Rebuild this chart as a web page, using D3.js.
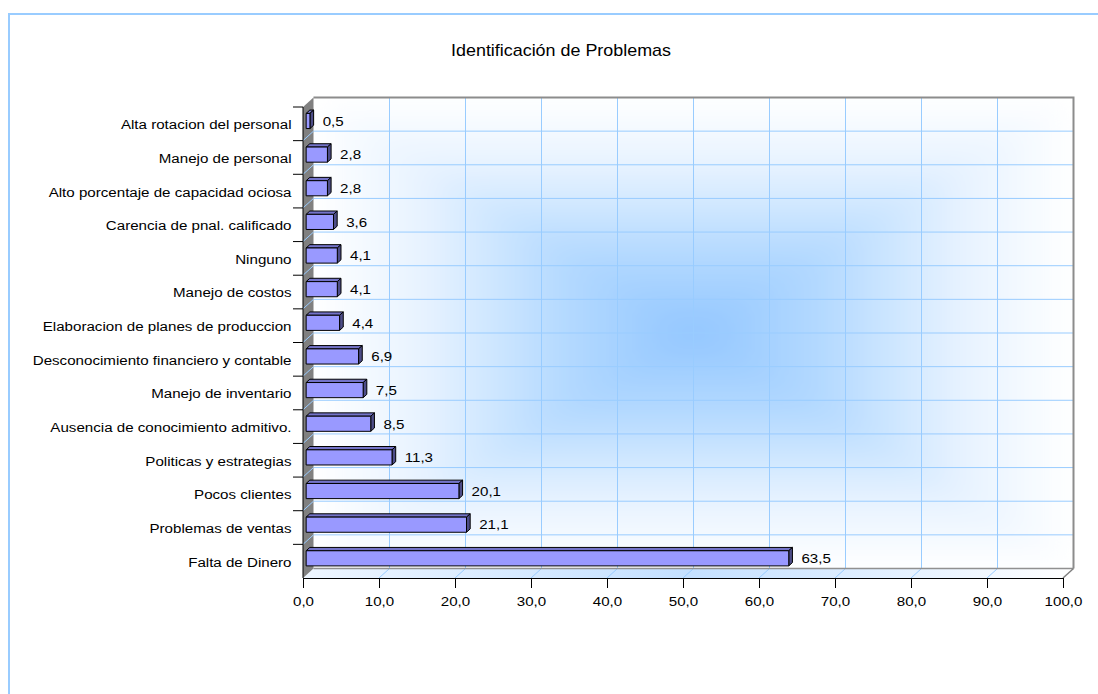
<!DOCTYPE html>
<html>
<head>
<meta charset="utf-8">
<script src="https://cdn.jsdelivr.net/npm/d3@7"></script>
<style>
  html, body { margin: 0; padding: 0; background: #ffffff; }
  svg { display: block; }
  text { font-family: "Liberation Sans", Arial, sans-serif; fill: #000; }
</style>
</head>
<body>
<svg id="chart" width="1098" height="694"></svg>
<script>
// ---- data ----
const title = "Identificación de Problemas";
const categories = [
  "Alta rotacion del personal",
  "Manejo de personal",
  "Alto porcentaje de capacidad ociosa",
  "Carencia de pnal. calificado",
  "Ninguno",
  "Manejo de costos",
  "Elaboracion de planes de produccion",
  "Desconocimiento financiero y contable",
  "Manejo de inventario",
  "Ausencia de conocimiento admitivo.",
  "Politicas y estrategias",
  "Pocos clientes",
  "Problemas de ventas",
  "Falta de Dinero"
];
const values = [0.5, 2.8, 2.8, 3.6, 4.1, 4.1, 4.4, 6.9, 7.5, 8.5, 11.3, 20.1, 21.1, 63.5];
const xTicks = [0, 10, 20, 30, 40, 50, 60, 70, 80, 90, 100];

// ---- layout ----
const svg = d3.select("#chart");
const X0 = 303, X1 = 1063;         // front plane x range
const Y0 = 107, Y1 = 578;          // front plane y range
const DX = 10.5, DY = -9.5;        // depth vector
const T0 = 0.3, T1 = 0.65;         // bar depth range
const SX = 1.12;                   // horizontal text stretch
const FS = 13.5;                   // label font size

const loc = d3.formatLocale({decimal: ",", thousands: ".", grouping: [3], currency: ["", ""]});
const fmt = loc.format(".1f");

const x = d3.scaleLinear().domain([0, 100]).range([X0, X1]);
const yCat = d3.scaleBand().domain(categories).range([Y0, Y1]);
const yBar = d3.scaleBand().domain(categories).range([Y0, Y1]).paddingInner(0.55).paddingOuter(0.275);

const defs = svg.append("defs");

// frame
svg.append("rect").attr("x", 9).attr("y", 14).attr("width", 1200).attr("height", 800)
  .attr("fill", "none").attr("stroke", "#99ccff").attr("stroke-width", 2);

// title
svg.append("text")
  .attr("transform", `translate(561,56) scale(${SX},1)`)
  .attr("text-anchor", "middle").attr("font-size", 16).text(title);

// ---- back wall ----
const wx0 = X0 + DX, wx1 = X1 + DX, wy0 = Y0 + DY, wy1 = Y1 + DY;
const cx = (wx0 + wx1) / 2, cy = (wy0 + wy1) / 2;
defs.append("clipPath").attr("id", "wallClip").append("rect")
  .attr("x", wx0).attr("y", wy0).attr("width", wx1 - wx0).attr("height", wy1 - wy0);
defs.append("filter").attr("id", "soft").attr("x", "-10%").attr("y", "-10%").attr("width", "120%").attr("height", "120%")
  .append("feGaussianBlur").attr("stdDeviation", 14);

const stops = [[0, "#92c6ff"], [0.35, "#b5daff"], [0.7, "#e6f2ff"], [1, "#ffffff"]];
const sides = [
  {id: "gT", ex: cx, ey: wy0, pts: [[wx0, wy0], [wx1, wy0]]},
  {id: "gB", ex: cx, ey: wy1, pts: [[wx1, wy1], [wx0, wy1]]},
  {id: "gL", ex: wx0, ey: cy, pts: [[wx0, wy1], [wx0, wy0]]},
  {id: "gR", ex: wx1, ey: cy, pts: [[wx1, wy0], [wx1, wy1]]}
];
sides.forEach(s => {
  const g = defs.append("linearGradient").attr("id", s.id).attr("gradientUnits", "userSpaceOnUse")
    .attr("x1", cx).attr("y1", cy).attr("x2", s.ex).attr("y2", s.ey);
  stops.forEach(st => g.append("stop").attr("offset", st[0]).attr("stop-color", st[1]));
});
svg.append("rect").attr("x", wx0).attr("y", wy0).attr("width", wx1 - wx0).attr("height", wy1 - wy0).attr("fill", "#ffffff");
const bg = svg.append("g").attr("clip-path", "url(#wallClip)").append("g").attr("filter", "url(#soft)");
sides.forEach(s => {
  bg.append("polygon")
    .attr("points", [[cx, cy], s.pts[0], s.pts[1]].map(p => p.join(",")).join(" "))
    .attr("fill", `url(#${s.id})`).attr("stroke", `url(#${s.id})`).attr("stroke-width", 1);
});

// wall gridlines
const grid = svg.append("g").attr("stroke", "#99ccff").attr("stroke-width", 1);
xTicks.slice(1, -1).forEach(t => {
  grid.append("line").attr("x1", x(t) + DX).attr("x2", x(t) + DX).attr("y1", wy0).attr("y2", wy1);
});
categories.slice(1).forEach(c => {
  const yy = yCat(c) + DY;
  grid.append("line").attr("x1", wx0).attr("x2", wx1).attr("y1", yy).attr("y2", yy);
});

// ---- floor ----
const fg = defs.append("linearGradient").attr("id", "floorG").attr("x1", 0).attr("x2", 1).attr("y1", 0).attr("y2", 0);
[[0, "#eef6ff"], [0.5, "#c4e0ff"], [1, "#ffffff"]].forEach(st => fg.append("stop").attr("offset", st[0]).attr("stop-color", st[1]));
svg.append("polygon")
  .attr("points", [[X0, Y1], [X1, Y1], [wx1, wy1], [wx0, wy1]].map(p => p.join(",")).join(" "))
  .attr("fill", "url(#floorG)");
xTicks.slice(1, -1).forEach(t => {
  svg.append("line").attr("x1", x(t)).attr("y1", Y1).attr("x2", x(t) + DX).attr("y2", wy1)
    .attr("stroke", "#99ccff").attr("stroke-width", 1);
});
svg.append("line").attr("x1", wx0).attr("x2", wx1).attr("y1", wy1).attr("y2", wy1).attr("stroke", "#909090").attr("stroke-width", 1.5);
svg.append("line").attr("x1", X1).attr("y1", Y1).attr("x2", wx1).attr("y2", wy1).attr("stroke", "#808080").attr("stroke-width", 1.5);

// wall border top & right
svg.append("polyline").attr("points", `${wx0},${wy0} ${wx1},${wy0} ${wx1},${wy1}`)
  .attr("fill", "none").attr("stroke", "#8c8c8c").attr("stroke-width", 2);

// ---- left wall ----
svg.append("polygon")
  .attr("points", [[X0, Y0], [wx0, wy0], [wx0, wy1], [X0, Y1]].map(p => p.join(",")).join(" "))
  .attr("fill", "#808080");
categories.slice(1).forEach(c => {
  svg.append("line").attr("x1", X0).attr("y1", yCat(c)).attr("x2", wx0).attr("y2", yCat(c) + DY)
    .attr("stroke", "#99ccff").attr("stroke-width", 1);
});

// ---- bars ----
const bars = svg.append("g");
const bw = yBar.bandwidth();
const ddx = DX * (T1 - T0), ddy = DY * (T1 - T0);
categories.forEach((c, i) => {
  const v = values[i];
  const xa = x(0) + DX * T0, xb = x(v) + DX * T0;
  const yt = yBar(c) + DY * T0;
  const g = bars.append("g").attr("stroke", "#000").attr("stroke-width", 1).attr("stroke-linejoin", "round");
  // top face
  g.append("polygon").attr("points", [[xa, yt], [xb, yt], [xb + ddx, yt + ddy], [xa + ddx, yt + ddy]].map(p => p.join(",")).join(" "))
    .attr("fill", "#7373c8");
  // side face
  g.append("polygon").attr("points", [[xb, yt], [xb + ddx, yt + ddy], [xb + ddx, yt + bw + ddy], [xb, yt + bw]].map(p => p.join(",")).join(" "))
    .attr("fill", "#4d4d88");
  // front face
  g.append("rect").attr("x", xa).attr("y", yt).attr("width", Math.max(0.5, xb - xa)).attr("height", bw)
    .attr("fill", "#9999ff");
  // label
  svg.append("text")
    .attr("transform", `translate(${xb + ddx + 9},${yt + bw / 2 + 4.8}) scale(${SX},1)`)
    .attr("font-size", FS).text(fmt(v));
});

// ---- axes ----
// left axis: labels
const yAxis = svg.append("g").attr("transform", `translate(${X0},0)`)
  .call(d3.axisLeft(yCat).tickSize(0).tickPadding(12));
yAxis.select(".domain").remove();
yAxis.selectAll("text")
  .attr("font-size", FS).attr("font-family", "Liberation Sans, Arial, sans-serif")
  .attr("dy", "0.4em")
  .attr("transform", `scale(${SX},1)`)
  .attr("x", -11.5 / SX);
// left axis line & boundary ticks
svg.append("line").attr("x1", X0).attr("x2", X0).attr("y1", Y0).attr("y2", Y1).attr("stroke", "#000");
categories.forEach(c => {
  svg.append("line").attr("x1", X0 - 10).attr("x2", X0).attr("y1", yCat(c)).attr("y2", yCat(c)).attr("stroke", "#000");
});

// bottom axis
const xAxis = svg.append("g").attr("transform", `translate(0,${Y1})`)
  .call(d3.axisBottom(x).tickValues(xTicks).tickFormat(fmt).tickSize(10).tickSizeOuter(0).tickPadding(8));
xAxis.select(".domain").attr("stroke", "#000");
xAxis.selectAll(".tick line").attr("stroke", "#000");
xAxis.selectAll("text")
  .attr("font-size", FS).attr("font-family", "Liberation Sans, Arial, sans-serif")
  .attr("transform", `scale(${SX},1)`);
</script>
</body>
</html>
